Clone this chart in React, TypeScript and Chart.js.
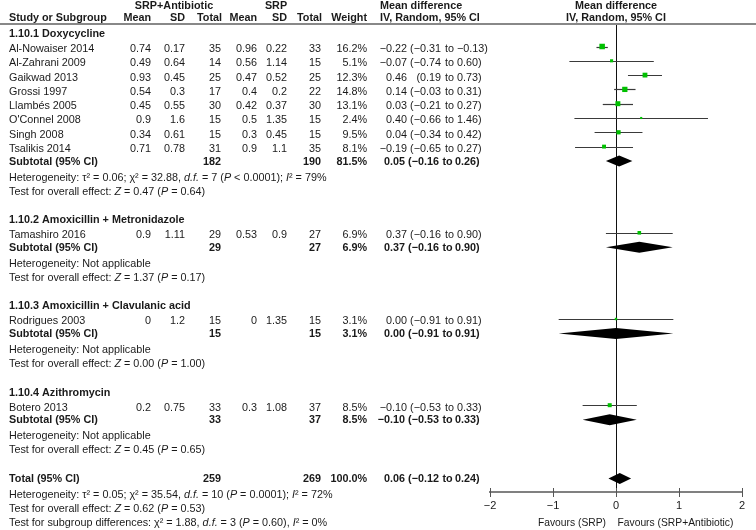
import React, { useEffect, useRef } from 'react';
import { Chart, registerables } from 'chart.js';

Chart.register(...registerables);

// ---------- DATA ----------
const groupTitles = [
  '1.10.1 Doxycycline',
  '1.10.2 Amoxicillin + Metronidazole',
  '1.10.3 Amoxicillin + Clavulanic acid',
  '1.10.4 Azithromycin',
];

const studyNames = [
  'Al-Nowaiser 2014', 'Al-Zahrani 2009', 'Gaikwad 2013', 'Grossi 1997', 'Llambés 2005',
  "O'Connel 2008", 'Singh 2008', 'Tsalikis 2014', 'Tamashiro 2016', 'Rodrigues 2003', 'Botero 2013',
];
const studyGroup = [0, 0, 0, 0, 0, 0, 0, 0, 1, 2, 3];
const expMean = [0.74, 0.49, 0.93, 0.54, 0.45, 0.9, 0.34, 0.71, 0.9, 0, 0.2];
const expSD = [0.17, 0.64, 0.45, 0.3, 0.55, 1.6, 0.61, 0.78, 1.11, 1.2, 0.75];
const expN = [35, 14, 25, 17, 30, 15, 15, 31, 29, 15, 33];
const ctlMean = [0.96, 0.56, 0.47, 0.4, 0.42, 0.5, 0.3, 0.9, 0.53, 0, 0.3];
const ctlSD = [0.22, 1.14, 0.52, 0.2, 0.37, 1.35, 0.45, 1.1, 0.9, 1.35, 1.08];
const ctlN = [33, 15, 25, 22, 30, 15, 15, 35, 27, 15, 37];
const studyWeight = [16.2, 5.1, 12.3, 14.8, 13.1, 2.4, 9.5, 8.1, 6.9, 3.1, 8.5];
const studyMD = [-0.22, -0.07, 0.46, 0.14, 0.03, 0.4, 0.04, -0.19, 0.37, 0.0, -0.1];
const studyLo = [-0.31, -0.74, 0.19, -0.03, -0.21, -0.66, -0.34, -0.65, -0.16, -0.91, -0.53];
const studyHi = [-0.13, 0.6, 0.73, 0.31, 0.27, 1.46, 0.42, 0.27, 0.9, 0.91, 0.33];

const subExpN = [182, 29, 15, 33];
const subCtlN = [190, 27, 15, 37];
const subWeight = [81.5, 6.9, 3.1, 8.5];
const subMD = [0.05, 0.37, 0.0, -0.1];
const subLo = [-0.16, -0.16, -0.91, -0.53];
const subHi = [0.26, 0.9, 0.91, 0.33];
const subHet = [
  'Heterogeneity: τ² = 0.06; χ² = 32.88, _d.f._ = 7 (_P_ < 0.0001); _I_² = 79%',
  'Heterogeneity: Not applicable',
  'Heterogeneity: Not applicable',
  'Heterogeneity: Not applicable',
];
const subTest = [
  'Test for overall effect: _Z_ = 0.47 (_P_ = 0.64)',
  'Test for overall effect: _Z_ = 1.37 (_P_ = 0.17)',
  'Test for overall effect: _Z_ = 0.00 (_P_ = 1.00)',
  'Test for overall effect: _Z_ = 0.45 (_P_ = 0.65)',
];

const totalExpN = 259;
const totalCtlN = 269;
const totalWeight = 100.0;
const totalMD = 0.06;
const totalLo = -0.12;
const totalHi = 0.24;
const totalHet = 'Heterogeneity: τ² = 0.05; χ² = 35.54, _d.f._ = 10 (_P_ = 0.0001); _I_² = 72%';
const totalTest = 'Test for overall effect: _Z_ = 0.62 (_P_ = 0.53)';
const subgroupTest = 'Test for subgroup differences: χ² = 1.88, _d.f._ = 3 (_P_ = 0.60), _I_² = 0%';

const axisTicks = [-2, -1, 0, 1, 2];
const favoursLeft = 'Favours (SRP)';
const favoursRight = 'Favours (SRP+Antibiotic)';

// ---------- STYLE / LAYOUT ----------
const FONT = '"Liberation Sans", Arial, Helvetica, sans-serif';
const FS = 10.8;
const TEXT = '#1a1a1a';
const GREEN = '#00c000';
const COL = { name: 9, m1: 151, sd1: 185, n1: 221, m2: 257, sd2: 287, n2: 321, w: 367, est: 407, lo: 441, to: 449.5, hi: 457 };

const minus = (s: string) => s.replace(/-/g, '\u2212');
const f2 = (v: number) => minus(v.toFixed(2));

type Row = { kind: string; y: number; idx: number };

function buildLayout(): Row[] {
  const rows: Row[] = [];
  let y = 34;
  groupTitles.forEach((_, g) => {
    rows.push({ kind: 'title', y, idx: g });
    y += 15;
    const members = studyGroup.map((gg, i) => (gg === g ? i : -1)).filter((i) => i >= 0);
    members.forEach((s, k) => {
      if (k > 0) y += 14.3;
      rows.push({ kind: 'study', y, idx: s });
    });
    y += 12.5;
    rows.push({ kind: 'sub', y, idx: g });
    y += 16;
    rows.push({ kind: 'het', y, idx: g });
    y += 14;
    rows.push({ kind: 'test', y, idx: g });
    y += 28.7;
  });
  rows.push({ kind: 'total', y, idx: -1 });
  y += 16;
  rows.push({ kind: 'totalHet', y, idx: -1 });
  y += 14;
  rows.push({ kind: 'totalTest', y, idx: -1 });
  y += 14;
  rows.push({ kind: 'subgroupTest', y, idx: -1 });
  return rows;
}

const ROWS = buildLayout();
const studyRowY = studyNames.map((_, i) => ROWS.find((r) => r.kind === 'study' && r.idx === i)!.y);

function font(bold: boolean, italic = false, size = FS) {
  return `${italic ? 'italic ' : ''}${bold ? 'bold ' : ''}${size}px ${FONT}`;
}

function drawRich(ctx: CanvasRenderingContext2D, text: string, x: number, y: number, bold = false, align = 'left', size = FS) {
  const parts = text.split('_');
  const widths = parts.map((p, i) => {
    ctx.font = font(bold, i % 2 === 1, size);
    return ctx.measureText(p).width;
  });
  const total = widths.reduce((a, b) => a + b, 0);
  let cx = align === 'right' ? x - total : align === 'center' ? x - total / 2 : x;
  ctx.textAlign = 'left';
  parts.forEach((p, i) => {
    ctx.font = font(bold, i % 2 === 1, size);
    ctx.fillText(p, cx, y);
    cx += widths[i];
  });
}

function txt(ctx: CanvasRenderingContext2D, s: string, x: number, y: number, align: CanvasTextAlign, bold = false, size = FS) {
  ctx.font = font(bold, false, size);
  ctx.textAlign = align;
  ctx.fillText(s, x, y);
}

function drawMD(ctx: CanvasRenderingContext2D, est: number, lo: number, hi: number, y: number, bold: boolean) {
  const dx = bold ? -2 : 0;
  txt(ctx, f2(est), COL.est + dx, y, 'right', bold);
  txt(ctx, '(' + f2(lo), COL.lo + dx, y, 'right', bold);
  txt(ctx, 'to', COL.to + dx, y, 'center', bold);
  txt(ctx, f2(hi) + ')', COL.hi + dx, y, 'left', bold);
}

const forestPlugin = {
  id: 'forest',
  beforeDatasetsDraw(chart: any) {
    const ctx: CanvasRenderingContext2D = chart.ctx;
    const xs = chart.scales.x;
    const ys = chart.scales.y;
    const area = chart.chartArea;
    ctx.save();
    // zero line
    const x0 = Math.round(xs.getPixelForValue(0)) + 0.5;
    ctx.strokeStyle = '#111';
    ctx.lineWidth = 1;
    ctx.beginPath();
    ctx.moveTo(x0, ys.getPixelForValue(25));
    ctx.lineTo(x0, area.bottom);
    ctx.stroke();
    // CI lines
    ctx.strokeStyle = '#3a3a3a';
    ctx.lineWidth = 1.2;
    studyNames.forEach((_, i) => {
      const py = Math.round(ys.getPixelForValue(studyRowY[i] - 2.5)) + 0.5;
      ctx.beginPath();
      ctx.moveTo(xs.getPixelForValue(studyLo[i]), py);
      ctx.lineTo(xs.getPixelForValue(studyHi[i]), py);
      ctx.stroke();
    });
    // diamonds
    const diamond = (md: number, lo: number, hi: number, rowY: number) => {
      const cy = ys.getPixelForValue(rowY - 0.5);
      ctx.fillStyle = '#000';
      ctx.beginPath();
      ctx.moveTo(xs.getPixelForValue(lo), cy);
      ctx.lineTo(xs.getPixelForValue(md), cy - 5.5);
      ctx.lineTo(xs.getPixelForValue(hi), cy);
      ctx.lineTo(xs.getPixelForValue(md), cy + 5.5);
      ctx.closePath();
      ctx.fill();
    };
    ROWS.forEach((r) => {
      if (r.kind === 'sub') diamond(subMD[r.idx], subLo[r.idx], subHi[r.idx], r.y);
      if (r.kind === 'total') diamond(totalMD, totalLo, totalHi, r.y);
    });
    ctx.restore();
  },
  afterDraw(chart: any) {
    const ctx: CanvasRenderingContext2D = chart.ctx;
    const xs = chart.scales.x;
    const ys = chart.scales.y;
    const area = chart.chartArea;
    ctx.save();
    // header rule
    ctx.strokeStyle = '#888';
    ctx.lineWidth = 2;
    ctx.beginPath();
    ctx.moveTo(0, ys.getPixelForValue(24));
    ctx.lineTo(chart.width, ys.getPixelForValue(24));
    ctx.stroke();
    // axis tick marks crossing the axis
    ctx.strokeStyle = '#555';
    ctx.lineWidth = 1;
    axisTicks.forEach((t) => {
      const px = Math.round(xs.getPixelForValue(t)) + 0.5;
      ctx.beginPath();
      ctx.moveTo(px, area.bottom - 4);
      ctx.lineTo(px, area.bottom + 5);
      ctx.stroke();
    });

    ctx.fillStyle = TEXT;
    ctx.textBaseline = 'middle';
    const Y = (v: number) => ys.getPixelForValue(v);
    const mid = (xs.getPixelForValue(-2) + xs.getPixelForValue(2)) / 2;
    // headers
    const h1 = Y(6);
    const h2 = Y(18);
    txt(ctx, 'SRP+Antibiotic', 174, h1, 'center', true);
    txt(ctx, 'SRP', 276, h1, 'center', true);
    txt(ctx, 'Mean difference', 380, h1, 'left', true);
    txt(ctx, 'Mean difference', mid, h1, 'center', true);
    txt(ctx, 'Study or Subgroup', COL.name, h2, 'left', true);
    txt(ctx, 'Mean', COL.m1, h2, 'right', true);
    txt(ctx, 'SD', COL.sd1, h2, 'right', true);
    txt(ctx, 'Total', COL.n1 + 1, h2, 'right', true);
    txt(ctx, 'Mean', COL.m2, h2, 'right', true);
    txt(ctx, 'SD', COL.sd2, h2, 'right', true);
    txt(ctx, 'Total', COL.n2 + 1, h2, 'right', true);
    txt(ctx, 'Weight', COL.w, h2, 'right', true);
    txt(ctx, 'IV, Random, 95% CI', 380, h2, 'left', true);
    txt(ctx, 'IV, Random, 95% CI', mid, h2, 'center', true);

    ROWS.forEach((r) => {
      const y = Y(r.y);
      if (r.kind === 'title') {
        txt(ctx, groupTitles[r.idx], COL.name, y, 'left', true);
      } else if (r.kind === 'study') {
        const i = r.idx;
        txt(ctx, studyNames[i], COL.name, y, 'left');
        txt(ctx, String(expMean[i]), COL.m1, y, 'right');
        txt(ctx, String(expSD[i]), COL.sd1, y, 'right');
        txt(ctx, String(expN[i]), COL.n1, y, 'right');
        txt(ctx, String(ctlMean[i]), COL.m2, y, 'right');
        txt(ctx, String(ctlSD[i]), COL.sd2, y, 'right');
        txt(ctx, String(ctlN[i]), COL.n2, y, 'right');
        txt(ctx, studyWeight[i].toFixed(1) + '%', COL.w, y, 'right');
        drawMD(ctx, studyMD[i], studyLo[i], studyHi[i], y, false);
      } else if (r.kind === 'sub') {
        const g = r.idx;
        txt(ctx, 'Subtotal (95% CI)', COL.name, y, 'left', true);
        txt(ctx, String(subExpN[g]), COL.n1, y, 'right', true);
        txt(ctx, String(subCtlN[g]), COL.n2, y, 'right', true);
        txt(ctx, subWeight[g].toFixed(1) + '%', COL.w, y, 'right', true);
        drawMD(ctx, subMD[g], subLo[g], subHi[g], y, true);
      } else if (r.kind === 'het') {
        drawRich(ctx, subHet[r.idx], COL.name, y);
      } else if (r.kind === 'test') {
        drawRich(ctx, subTest[r.idx], COL.name, y);
      } else if (r.kind === 'total') {
        txt(ctx, 'Total (95% CI)', COL.name, y, 'left', true);
        txt(ctx, String(totalExpN), COL.n1, y, 'right', true);
        txt(ctx, String(totalCtlN), COL.n2, y, 'right', true);
        txt(ctx, totalWeight.toFixed(1) + '%', COL.w, y, 'right', true);
        drawMD(ctx, totalMD, totalLo, totalHi, y, true);
      } else if (r.kind === 'totalHet') {
        drawRich(ctx, totalHet, COL.name, y);
      } else if (r.kind === 'totalTest') {
        drawRich(ctx, totalTest, COL.name, y);
      } else if (r.kind === 'subgroupTest') {
        drawRich(ctx, subgroupTest, COL.name, y);
        const x0 = xs.getPixelForValue(0);
        txt(ctx, favoursLeft, x0 - 10, y, 'right', false, 10.3);
        txt(ctx, favoursRight, x0 + 1.5, y, 'left', false, 10.3);
      }
    });
    ctx.restore();
  },
};

export default function App() {
  const ref = useRef<HTMLCanvasElement | null>(null);
  useEffect(() => {
    document.body.style.margin = '0';
    const canvas = ref.current!;
    const chart = new Chart(canvas, {
      type: 'scatter',
      data: {
        datasets: [
          {
            data: studyNames.map((_, i) => ({ x: studyMD[i], y: studyRowY[i] - 2.5 })),
            pointStyle: 'rect',
            pointRadius: studyWeight.map((w) => 0.97 * Math.sqrt(w)),
            backgroundColor: GREEN,
            borderWidth: 0,
          },
        ],
      },
      options: {
        responsive: false,
        animation: false,
        events: [],
        layout: { autoPadding: false, padding: { left: 490, right: 14, top: 0, bottom: 0 } },
        plugins: { legend: { display: false }, tooltip: { enabled: false } },
        scales: {
          x: {
            type: 'linear',
            min: -2,
            max: 2,
            afterFit: (s: any) => {
              s.height = 38;
            },
            afterBuildTicks: (s: any) => {
              s.ticks = axisTicks.map((v) => ({ value: v }));
            },
            ticks: {
              callback: (v: any) => minus(String(v)),
              font: { family: FONT, size: 11 },
              color: TEXT,
              padding: 7,
              maxRotation: 0,
            },
            grid: { drawOnChartArea: false, drawTicks: false },
            border: { color: '#808080', width: 2 },
          },
          y: { type: 'linear', display: false, min: 0, max: 492, reverse: true },
        },
      },
      plugins: [forestPlugin],
    } as any);
    return () => chart.destroy();
  }, []);
  return (
    <div style={{ position: 'absolute', left: 0, top: 0, width: 756, height: 530, background: '#fff' }}>
      <canvas ref={ref} width={756} height={530} style={{ display: 'block' }} />
    </div>
  );
}
